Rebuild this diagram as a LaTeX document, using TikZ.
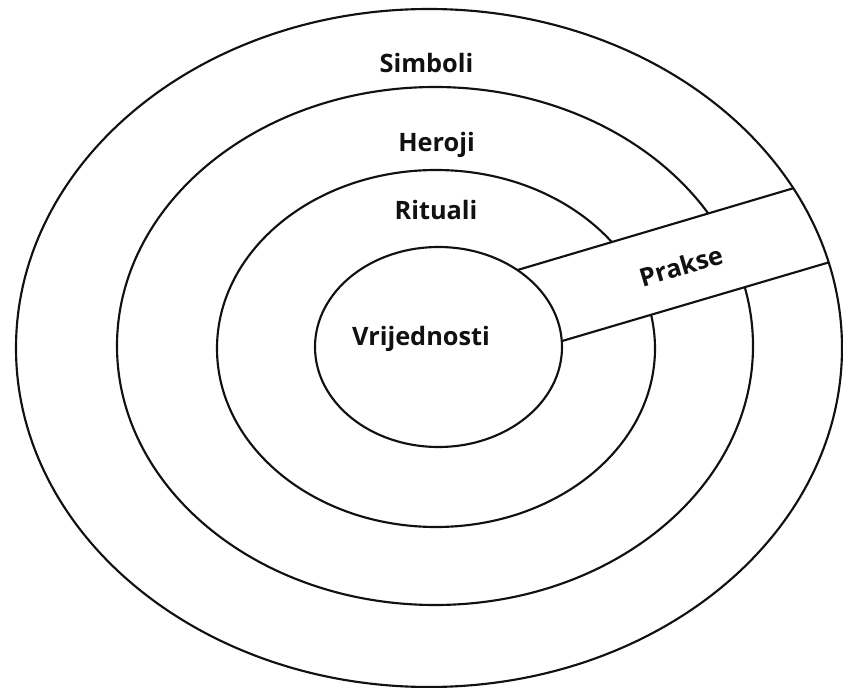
\documentclass[tikz,border=0pt]{standalone}
\usepackage{fontspec}
\setmainfont{Open Sans}
\usepackage{tikz}
\usetikzlibrary{calc}
\definecolor{crta}{HTML}{111111}

\begin{document}
\begin{tikzpicture}[
  x=0.75pt, y=-0.75pt,
  prsten/.style={draw=crta, line width=1.6pt},
  traka/.style={draw=crta, line width=1.6pt},
  oznaka/.style={font=\fontsize{19}{21}\selectfont\bfseries, text=crta, inner sep=0pt, anchor=base}
]
\useasboundingbox (0,0) rectangle (843,688);
% prstenovi
\draw[prsten] (435,346) ellipse [x radius=318, y radius=259];
\draw[prsten] (436,348.5) ellipse [x radius=219, y radius=178.5];

% prakse
\coordinate (g1) at (440,293);
\coordinate (g2) at (900,156.6);
\coordinate (d1) at (440,377);
\coordinate (d2) at (900,241.4);
\begin{scope}
  \clip (429,348) ellipse [x radius=413, y radius=339];
  \fill[white] (g1) -- (g2) -- (d2) -- (d1) -- cycle;
  \draw[traka] (g1) -- (g2);
  \draw[traka] (d1) -- (d2);
\end{scope}
\draw[prsten, fill=white] (438.5,347) ellipse [x radius=123.5, y radius=100];
\draw[prsten] (429,348) ellipse [x radius=413, y radius=339];

% oznake
\node[oznaka] (simboli) at (426.5,73) {Simboli};
\node[oznaka] (heroji) at (436.5,151.5) {Heroji};
\node[oznaka] (rituali) at (436,220) {Rituali};
\node[oznaka] (vrijednosti) at (421,345) {Vrijednosti};
\node[oznaka, anchor=center, rotate=16.5] (prakse) at (681,266) {Prakse};
\end{tikzpicture}
\end{document}
